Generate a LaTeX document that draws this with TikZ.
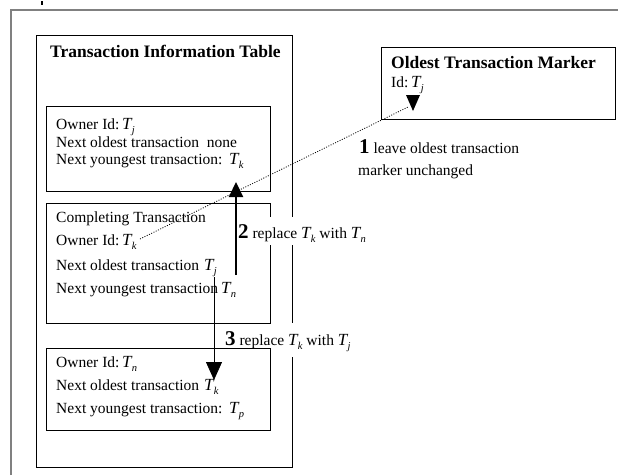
\documentclass[tikz,border=0pt]{standalone}
\usepackage{fontspec}
\setmainfont{Liberation Serif}
\usetikzlibrary{arrows.meta}
\newcommand{\Tv}[1]{{\fontsize{17}{17}\selectfont\itshape T}\kern0.3pt\raisebox{-4pt}{\fontsize{10.5}{10.5}\selectfont\itshape #1}}
\newcommand{\bignum}[1]{{\bfseries\fontsize{21}{21}\selectfont #1}}
\begin{document}
\begin{tikzpicture}[x=1pt,y=-1pt,
  frame/.style={draw=black!50, line width=1.2pt},
  box/.style={draw, line width=1pt, anchor=north west, inner sep=0pt},
  txt/.style={anchor=base west, inner sep=0pt, font=\fontsize{15.5}{18}\selectfont},
  ttl/.style={anchor=base west, inner sep=0pt, font=\bfseries\fontsize{17.5}{20}\selectfont},
  lab/.style={anchor=base west, fill=white, inner xsep=2pt, inner ysep=1pt, font=\fontsize{15.5}{18}\selectfont},
  thick arrow/.style={line width=2.2pt, -{Triangle[length=15pt,width=14pt]}},
  thin arrow/.style={line width=0.8pt, -{Triangle[length=18pt,width=16pt]}},
  dotline/.style={line width=0.8pt, dash pattern=on 1pt off 1.5pt}]
\useasboundingbox (0,0) rectangle (618,475);
\fill[white] (0,0) rectangle (618,475);
% outer frame
\coordinate (fa) at (11,475);
\coordinate (fb) at (11,10);
\coordinate (fc) at (618,10);
\draw[frame] (fa) -- (fb) -- (fc);
\coordinate (tk1) at (42,1);
\coordinate (tk2) at (42,5);
\draw[line width=1.3pt] (tk1) -- (tk2);
% big table box
\node[box, minimum width=256pt, minimum height=432pt] (tab) at (36,35) {};
\node[ttl] (ttitle) at (50,57) {Transaction Information Table};
% label 3 (white, covers the right edge)
\node[lab, text height=21pt, text depth=11pt] (l3) at (223,345) {\bignum{3} replace \Tv{k} with \Tv{j}};
% box 2
\node[box, minimum width=224pt, minimum height=120pt] (b2) at (46,203) {};
\node[txt] (b2l0) at (56,222) {Completing Transaction};
\node[txt] (b2l1) at (56,245) {Owner Id:};
\node[txt] (b2v1) at (122,245) {\Tv{k}};
\node[txt] (b2l2) at (56,270) {Next oldest transaction};
\node[txt] (b2v2) at (204,270) {\Tv{j}};
\node[txt] (b2l3) at (56,293) {Next youngest transaction};
\node[txt] (b2v3) at (221,293) {\Tv{n}};
% label 2
\node[lab, text height=20pt, text depth=6pt] (l2) at (236,238) {\bignum{2} replace \Tv{k} with \Tv{n}};
% box 1
\node[box, minimum width=224pt, minimum height=85pt] (b1) at (46,106) {};
\node[txt] (b1l1) at (56,129) {Owner Id:};
\node[txt] (b1v1) at (122,129) {\Tv{j}};
\node[txt] (b1l2) at (56,147) {Next oldest transaction\ \ none};
\node[txt] (b1l3) at (56,164) {Next youngest transaction:};
\node[txt] (b1v3) at (229,164) {\Tv{k}};
% box 3
\node[box, minimum width=224pt, minimum height=82pt] (b3) at (46,348) {};
\node[txt] (b3l1) at (56,367) {Owner Id:};
\node[txt] (b3v1) at (122,367) {\Tv{n}};
\node[txt] (b3l2) at (56,390) {Next oldest transaction};
\node[txt] (b3v2) at (204,390) {\Tv{k}};
\node[txt] (b3l3) at (56,413) {Next youngest transaction:};
\node[txt] (b3v3) at (229,413) {\Tv{p}};
% marker box
\node[box, minimum width=234pt, minimum height=72pt] (mk) at (381,47) {};
\node[ttl] (mktitle) at (391,68) {Oldest Transaction Marker};
\node[txt] (mkid) at (391,87) {Id:\,\Tv{j}};
% label 1
\node[txt] (l1a) at (359,153) {\bignum{1} leave oldest transaction};
\node[txt] (l1b) at (358,175) {marker unchanged};
% arrows
\coordinate (a2s) at (236,275);
\coordinate (a2e) at (236,182);
\draw[thick arrow] (a2s) -- (a2e);
\coordinate (a3s) at (214,277);
\coordinate (a3e) at (214,380);
\draw[thin arrow] (a3s) -- (a3e);
\coordinate (a1s) at (140,239);
\coordinate (a1m) at (408,107);
\coordinate (a1t) at (413,111);
\draw[dotline] (a1s) -- (a1m);
\fill (a1t) -- ++(-7,-16) -- ++(14,0) -- cycle;
\end{tikzpicture}
\end{document}
